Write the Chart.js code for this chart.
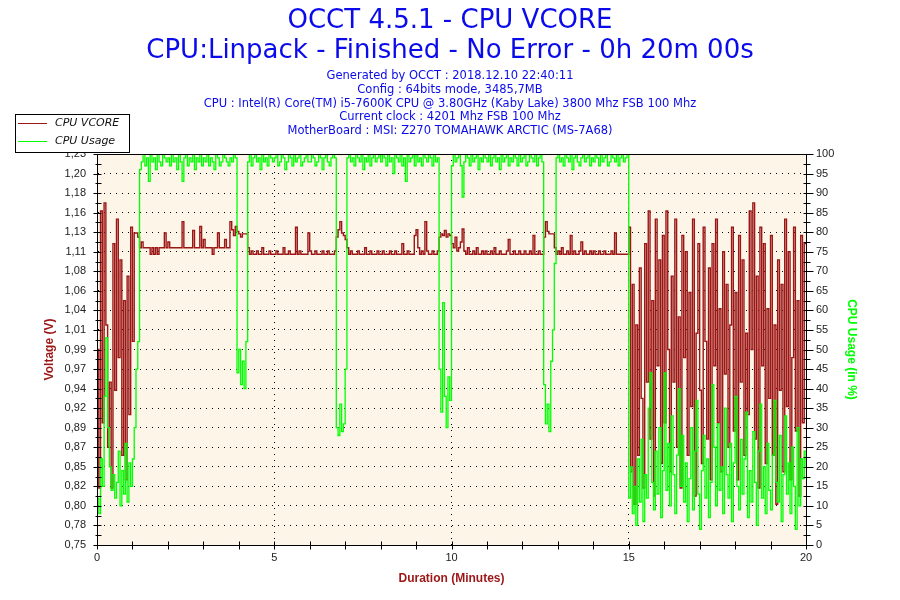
<!DOCTYPE html>
<html>
<head>
  <title>OCCT 4.5.1 - CPU VCORE</title>
  <script src="https://cdn.jsdelivr.net/npm/chart.js"></script>
  <style>
    body { margin: 0; background: #fff; }
    canvas { display: block; }
  </style>
</head>
<body>
  <canvas id="myChart" width="900" height="600"></canvas>

  <script>
    const titleLines = ['OCCT 4.5.1 - CPU VCORE', 'CPU:Linpack - Finished - No Error - 0h 20m 00s'];
    const infoLines = [
      'Generated by OCCT : 2018.12.10 22:40:11',
      'Config : 64bits mode, 3485,7MB',
      'CPU : Intel(R) Core(TM) i5-7600K CPU @ 3.80GHz (Kaby Lake) 3800 Mhz FSB 100 Mhz',
      'Current clock : 4201 Mhz FSB 100 Mhz',
      'MotherBoard : MSI: Z270 TOMAHAWK ARCTIC (MS-7A68)'
    ];
    const seriesNames = ['CPU VCORE', 'CPU Usage'];

    // left axis labels as OCCT prints them (21 evenly spaced ticks, 0.75 .. 1.23 V)
    const voltTicks = ['0,75', '0,78', '0,80', '0,82', '0,85', '0,87', '0,89', '0,92', '0,94', '0,97', '0,99',
                       '1,01', '1,04', '1,06', '1,08', '1,11', '1,13', '1,16', '1,18', '1,20', '1,23'];
    const xLabels = [0, 5, 10, 15, 20];

    // one reading every 3 s (0.05 min), one row per minute
    const sampleStep = 0.05;

    const vcore = [
      0.99, 0.82, 1.16, 0.90, 1.17, 1.02, 0.87, 0.95, 0.82, 1.12, 0.94, 1.15, 0.98, 1.10, 0.86, 1.05, 0.83, 1.08, 0.91, 1.14,
      1.00, 1.133, 1.133, 1.128, 1.115, 1.122, 1.115, 1.115, 1.115, 1.115, 1.107, 1.115, 1.107, 1.115, 1.107, 1.115, 1.115, 1.115, 1.133, 1.115,
      1.122, 1.115, 1.115, 1.115, 1.115, 1.115, 1.115, 1.115, 1.147, 1.115, 1.115, 1.115, 1.115, 1.115, 1.136, 1.115, 1.115, 1.115, 1.141, 1.115,
      1.125, 1.115, 1.115, 1.115, 1.115, 1.107, 1.115, 1.115, 1.133, 1.115, 1.115, 1.115, 1.125, 1.115, 1.115, 1.147, 1.137, 1.130, 1.141, 1.135,
      1.132, 1.128, 1.132, 1.132, 1.132, 1.115, 1.107, 1.111, 1.107, 1.107, 1.111, 1.107, 1.107, 1.115, 1.107, 1.107, 1.107, 1.111, 1.107, 1.107,
      1.107, 1.111, 1.107, 1.107, 1.107, 1.115, 1.107, 1.107, 1.111, 1.107, 1.107, 1.107, 1.140, 1.107, 1.111, 1.107, 1.107, 1.107, 1.107, 1.133,
      1.111, 1.107, 1.107, 1.111, 1.107, 1.107, 1.107, 1.111, 1.107, 1.107, 1.111, 1.107, 1.107, 1.107, 1.111, 1.128, 1.137, 1.147, 1.133, 1.130,
      1.125, 1.115, 1.107, 1.111, 1.107, 1.107, 1.107, 1.111, 1.107, 1.107, 1.107, 1.115, 1.107, 1.107, 1.111, 1.107, 1.107, 1.107, 1.111, 1.107,
      1.107, 1.111, 1.107, 1.107, 1.107, 1.111, 1.107, 1.107, 1.111, 1.107, 1.107, 1.107, 1.120, 1.107, 1.107, 1.111, 1.107, 1.107, 1.107, 1.130,
      1.137, 1.115, 1.107, 1.111, 1.107, 1.147, 1.111, 1.107, 1.107, 1.111, 1.107, 1.107, 1.111, 1.128, 1.132, 1.130, 1.136, 1.128, 1.132, 1.130,
      1.120, 1.115, 1.128, 1.111, 1.115, 1.122, 1.138, 1.111, 1.107, 1.115, 1.107, 1.107, 1.111, 1.107, 1.115, 1.107, 1.107, 1.111, 1.107, 1.111,
      1.107, 1.107, 1.111, 1.107, 1.115, 1.107, 1.107, 1.111, 1.107, 1.107, 1.107, 1.111, 1.125, 1.107, 1.107, 1.111, 1.107, 1.107, 1.111, 1.107,
      1.107, 1.111, 1.107, 1.107, 1.111, 1.107, 1.130, 1.107, 1.107, 1.111, 1.107, 1.107, 1.128, 1.147, 1.135, 1.132, 1.132, 1.132, 1.115, 1.107,
      1.111, 1.107, 1.115, 1.107, 1.107, 1.111, 1.107, 1.130, 1.107, 1.111, 1.107, 1.107, 1.111, 1.122, 1.107, 1.111, 1.107, 1.107, 1.111, 1.107,
      1.111, 1.107, 1.107, 1.111, 1.107, 1.107, 1.111, 1.107, 1.107, 1.107, 1.111, 1.107, 1.133, 1.107, 1.107, 1.107, 1.107, 1.107, 1.107, 1.107,
      1.14, 0.84, 1.07, 0.80, 1.02, 0.86, 1.09, 0.93, 0.82, 1.12, 0.95, 1.16, 0.88, 1.05, 0.81, 1.15, 0.97, 1.10, 0.85, 1.13,
      0.90, 1.16, 0.99, 0.84, 1.08, 0.95, 1.15, 0.87, 1.03, 0.82, 1.13, 0.98, 1.11, 0.86, 1.06, 0.92, 1.15, 0.81, 1.01, 1.12,
      0.94, 0.85, 1.14, 1.00, 0.88, 1.09, 0.83, 1.12, 0.97, 1.15, 0.90, 1.04, 0.84, 1.11, 0.96, 1.07, 0.87, 1.02, 1.14, 0.89,
      1.06, 0.83, 1.13, 0.95, 1.10, 0.86, 1.01, 0.91, 1.16, 0.99, 1.17, 0.88, 1.08, 0.82, 1.14, 0.97, 1.12, 0.85, 1.04, 0.93,
      1.13, 0.86, 1.02, 0.80, 1.10, 0.94, 1.07, 0.84, 1.15, 0.92, 1.11, 0.83, 0.98, 1.14, 0.89, 1.05, 0.81, 1.13, 0.90, 1.12,
      1.12
    ];

    const usage = [
      12, 8, 22, 15, 38, 53, 30, 20, 14, 18, 12, 16, 24, 10, 19, 13, 26, 11, 21, 15,
      22, 30, 45, 52, 96, 98, 100, 97, 99, 93, 100, 98, 99, 96, 100, 98, 97, 100, 99, 98,
      99, 97, 100, 98, 99, 96, 100, 98, 93, 99, 100, 97, 99, 98, 100, 96, 99, 98, 100, 97,
      99, 98, 100, 97, 99, 98, 96, 100, 99, 97, 98, 100, 99, 98, 97, 99, 98, 100, 99, 44,
      50, 41, 47, 40, 52, 98, 100, 97, 99, 100, 98, 99, 96, 100, 98, 99, 97, 100, 99, 98,
      99, 100, 97, 98, 100, 99, 96, 98, 100, 99, 97, 100, 98, 99, 100, 97, 98, 99, 100, 98,
      98, 100, 99, 97, 98, 100, 99, 96, 99, 100, 98, 97, 99, 100, 99, 30, 28, 36, 29, 31,
      45, 99, 100, 98, 99, 97, 100, 99, 98, 100, 96, 99, 98, 100, 97, 99, 100, 98, 99, 100,
      98, 100, 99, 97, 100, 98, 99, 95, 100, 99, 98, 100, 97, 99, 93, 100, 98, 99, 100, 97,
      100, 98, 99, 97, 100, 99, 98, 100, 99, 97, 100, 98, 99, 45, 34, 62, 38, 30, 43, 37,
      97, 100, 98, 99, 100, 97, 89, 98, 100, 99, 97, 100, 98, 99, 100, 96, 99, 98, 100, 99,
      98, 100, 97, 99, 100, 98, 99, 96, 100, 98, 99, 100, 97, 99, 98, 100, 99, 97, 100, 98,
      99, 100, 97, 98, 100, 99, 98, 100, 97, 99, 100, 98, 41, 31, 36, 29, 47, 55, 72, 99,
      100, 98, 99, 97, 100, 99, 98, 100, 96, 99, 100, 98, 97, 99, 100, 98, 99, 100, 97, 99,
      98, 100, 99, 97, 100, 98, 99, 100, 97, 98, 100, 99, 98, 100, 97, 99, 100, 98, 99, 100,
      12, 20, 8, 15, 5, 22, 11, 27, 6, 18, 12, 35, 44, 16, 9, 24, 13, 30, 7, 19,
      44, 14, 26, 10, 33, 18, 8, 23, 40, 15, 28, 11, 21, 6, 17, 30, 9, 24, 37, 13,
      4, 19, 28, 12, 22, 7, 16, 41, 25, 10, 31, 14, 20, 8, 35, 18, 12, 26, 6, 21,
      38, 15, 9, 27, 13, 22, 34, 7, 19, 11, 29, 16, 5, 24, 36, 12, 20, 8, 26, 14,
      9, 23, 37, 16, 11, 28, 6, 18, 33, 13, 21, 8, 25, 15, 4, 30, 10, 22, 17, 24,
      20
    ];

    const minutes = vcore.map((_, i) => +(i * sampleStep).toFixed(2));

    const RED = '#9c1616';
    const GREEN = '#00ff00';
    const BLUE = '#0a0aeb';

    // cream plot area, frame, crossing tick marks, header and the little legend box
    const occtLook = {
      id: 'occtLook',
      beforeDraw(chart) {
        const { ctx, chartArea: a } = chart;
        ctx.save();
        ctx.fillStyle = '#fdf6e8';
        ctx.fillRect(a.left, a.top, a.right - a.left, a.bottom - a.top);
        ctx.restore();
      },
      afterDraw(chart) {
        const { ctx, chartArea: a, scales } = chart;
        ctx.save();
        ctx.strokeStyle = '#000';
        ctx.lineWidth = 1;
        ctx.strokeRect(Math.round(a.left) + 0.5, Math.round(a.top) + 0.5,
                       Math.round(a.right - a.left), Math.round(a.bottom - a.top));

        ctx.beginPath();
        const yl = scales.y, yr = scales.y1, xs = scales.x;
        const L = Math.round(a.left) + 0.5, R = Math.round(a.right) + 0.5, B = Math.round(a.bottom) + 0.5;
        for (let i = 0; i <= 40; i++) {
          const major = i % 2 === 0;
          const py = Math.round(yl.getPixelForValue(0.75 + i * 0.012)) + 0.5;
          ctx.moveTo(L - (major ? 4 : 2), py); ctx.lineTo(L + 4, py);
          const pr = Math.round(yr.getPixelForValue(i * 2.5)) + 0.5;
          ctx.moveTo(R - 3, pr); ctx.lineTo(R + (major ? 7 : 4), pr);
        }
        for (let m = 0; m <= 20; m++) {
          const px = Math.round(xs.getPixelForValue(m)) + 0.5;
          ctx.moveTo(px, B - 4); ctx.lineTo(px, B + 4);
        }
        ctx.stroke();

        // header
        ctx.fillStyle = BLUE;
        ctx.textAlign = 'center';
        ctx.textBaseline = 'middle';
        ctx.font = '26px "DejaVu Sans"';
        ctx.fillText(titleLines[0], 450, 21);
        ctx.fillText(titleLines[1], 450, 51);
        ctx.font = '11.5px "DejaVu Sans"';
        infoLines.forEach((t, i) => ctx.fillText(t, 450, 76 + i * 13.8));

        // legend
        ctx.fillStyle = '#fff';
        ctx.fillRect(15.5, 114.5, 114, 38);
        ctx.strokeStyle = '#000';
        ctx.strokeRect(15.5, 114.5, 114, 38);
        [RED, GREEN].forEach((c, i) => {
          const ly = 123.5 + i * 18;
          ctx.strokeStyle = c;
          ctx.beginPath(); ctx.moveTo(18, ly); ctx.lineTo(47, ly); ctx.stroke();
          ctx.fillStyle = '#111';
          ctx.textAlign = 'left';
          ctx.font = 'italic 11px "DejaVu Sans"';
          ctx.fillText(seriesNames[i], 55, ly);
        });
        ctx.restore();
      }
    };

    const dotted = { dash: [1, 5], color: '#000', width: 1 };
    const tickFont = { family: '"Liberation Sans", Arial, sans-serif', size: 11 };
    const titleFont = { family: '"Liberation Sans", Arial, sans-serif', size: 12, weight: 'bold' };

    const ctx = document.getElementById('myChart').getContext('2d');
    new Chart(ctx, {
      type: 'line',
      data: {
        datasets: [{
          label: seriesNames[0],
          data: minutes.map((t, i) => ({ x: t, y: vcore[i] })),
          yAxisID: 'y',
          borderColor: RED,
          borderWidth: 1.4,
          pointRadius: 0,
          stepped: true,
          order: 1
        }, {
          label: seriesNames[1],
          data: minutes.map((t, i) => ({ x: t, y: usage[i] })),
          yAxisID: 'y1',
          borderColor: GREEN,
          borderWidth: 1.3,
          pointRadius: 0,
          stepped: true,
          order: 0
        }]
      },
      options: {
        responsive: false,
        animation: false,
        layout: { padding: { left: 38, right: 37, top: 154, bottom: 10 } },
        plugins: { legend: { display: false }, tooltip: { enabled: false } },
        scales: {
          x: {
            type: 'linear', min: 0, max: 20,
            afterBuildTicks: s => { s.ticks = xLabels.map(v => ({ value: v })); },
            afterFit: s => { s.height = 45; },
            ticks: { font: tickFont, color: '#222', padding: 6 },
            grid: {
              drawTicks: false,
              color: c => (c.tick && c.tick.value > 0 && c.tick.value < 20) ? '#000' : 'rgba(0,0,0,0)'
            },
            border: dotted,
            title: { display: true, text: 'Duration (Minutes)', color: RED, font: titleFont }
          },
          y: {
            position: 'left', min: 0.75, max: 1.23,
            afterBuildTicks: s => { s.ticks = voltTicks.map((_, i) => ({ value: 0.75 + i * 0.024 })); },
            afterFit: s => { s.width = 59; },
            ticks: { font: tickFont, color: '#222', padding: 11, autoSkip: false,
                     callback: (v, i) => voltTicks[i] },
            grid: {
              drawTicks: false,
              color: c => (c.index > 0 && c.index < 20) ? '#000' : 'rgba(0,0,0,0)'
            },
            border: dotted,
            title: { display: true, text: 'Voltage (V)', color: RED, font: titleFont }
          },
          y1: {
            position: 'right', min: 0, max: 100,
            afterFit: s => { s.width = 57; },
            ticks: { stepSize: 5, font: tickFont, color: '#222', padding: 10, autoSkip: false },
            grid: { drawOnChartArea: false, drawTicks: false },
            border: { color: '#000' },
            title: { display: true, text: 'CPU Usage (in %)', color: GREEN, font: titleFont }
          }
        }
      },
      plugins: [occtLook]
    });
  </script>
</body>
</html>
